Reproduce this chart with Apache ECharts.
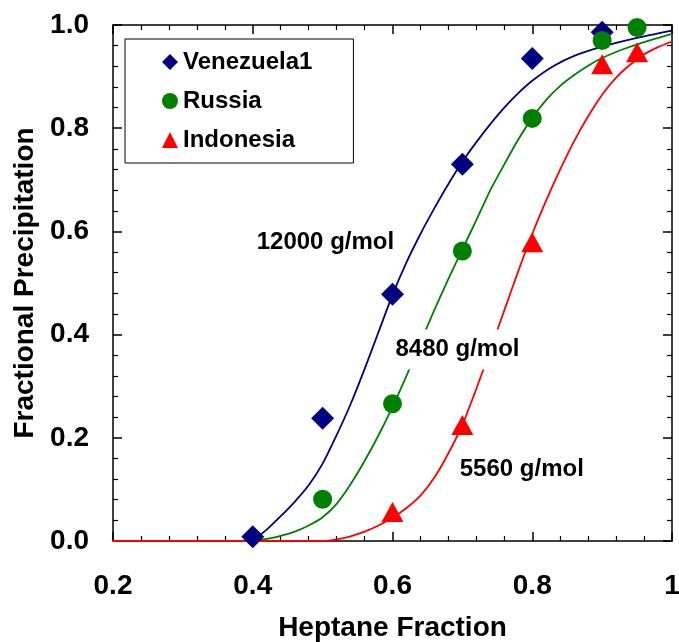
<!DOCTYPE html>
<html><head><meta charset="utf-8">
<script src="https://cdn.jsdelivr.net/npm/echarts@6/dist/echarts.min.js"></script>
<style>html,body{margin:0;padding:0;background:#fff}#c{width:679px;height:642px}</style>
</head><body><div id="c"></div>
<script>
// Measured data points
const venezuelaX = [0.4, 0.5, 0.6, 0.7, 0.8, 0.9];
const venezuelaY = [0.008, 0.238, 0.478, 0.730, 0.935, 0.986];
const russiaX = [0.5, 0.6, 0.7, 0.8, 0.9, 0.95];
const russiaY = [0.081, 0.266, 0.562, 0.819, 0.970, 0.995];
const indonesiaX = [0.6, 0.7, 0.8, 0.9, 0.95];
const indonesiaY = [0.056, 0.225, 0.579, 0.924, 0.947];

// Fitted model curves
const fitVX = [0.40, 0.42, 0.44, 0.46, 0.48, 0.50, 0.52, 0.54, 0.56, 0.58, 0.60, 0.62, 0.64, 0.66, 0.68, 0.70, 0.72, 0.74, 0.76, 0.78, 0.80, 0.83, 0.86, 0.90, 0.95, 1.0];
const fitVY = [0.0, 0.022, 0.048, 0.076, 0.108, 0.15, 0.205, 0.265, 0.333, 0.405, 0.477, 0.54, 0.595, 0.645, 0.692, 0.735, 0.773, 0.808, 0.84, 0.868, 0.892, 0.92, 0.94, 0.958, 0.975, 0.989];
const fitRX = [0.40, 0.42, 0.44, 0.46, 0.48, 0.50, 0.52, 0.54, 0.56, 0.58, 0.60, 0.62, 0.64, 0.66, 0.68, 0.70, 0.72, 0.74, 0.76, 0.78, 0.80, 0.82, 0.84, 0.86, 0.88, 0.90, 0.93, 0.96, 1.0];
const fitRY = [0.0, 0.004, 0.01, 0.018, 0.03, 0.046, 0.072, 0.11, 0.155, 0.205, 0.26, 0.32, 0.385, 0.448, 0.508, 0.565, 0.622, 0.68, 0.73, 0.778, 0.82, 0.855, 0.882, 0.903, 0.921, 0.936, 0.953, 0.967, 0.983];
const fitIX = [0.185, 0.50, 0.52, 0.54, 0.56, 0.58, 0.60, 0.62, 0.64, 0.66, 0.68, 0.70, 0.72, 0.74, 0.76, 0.78, 0.80, 0.82, 0.84, 0.86, 0.88, 0.90, 0.92, 0.94, 0.96, 0.98, 1.0];
const fitIY = [0.0, 0.0, 0.003, 0.009, 0.018, 0.03, 0.045, 0.064, 0.088, 0.123, 0.17, 0.225, 0.295, 0.37, 0.447, 0.523, 0.595, 0.66, 0.72, 0.775, 0.823, 0.865, 0.898, 0.923, 0.943, 0.957, 0.968];

// Annotations
const annoText = ['12000 g/mol', '8480 g/mol', '5560 g/mol'];
const annoX = [0.504, 0.693, 0.785];
const annoY = [0.579, 0.371, 0.138];

// Axis tick labels
const xTickVals = [0.2, 0.4, 0.6, 0.8, 1.0];
const xTickLabels = ['0.2', '0.4', '0.6', '0.8', '1'];
const yTickVals = [0.0, 0.2, 0.4, 0.6, 0.8, 1.0];
const yTickLabels = ['0.0', '0.2', '0.4', '0.6', '0.8', '1.0'];

const zip = (xs, ys) => xs.map((x, i) => [x, ys[i]]);
const lookup = (vals, labels) => v => {
  const i = vals.findIndex(t => Math.abs(t - v) < 1e-6);
  return i >= 0 ? labels[i] : '';
};

const FONT = '"Liberation Sans", Arial, sans-serif';
const NAVY = '#000080', GREEN = '#008000', RED = '#FF0000';

const axisCommon = {
  axisLine: { show: true, onZero: false, lineStyle: { color: '#000', width: 1.5 } },
  axisTick: { show: true, inside: true, length: 9, lineStyle: { color: '#000', width: 1.5 } },
  minorTick: { show: true, splitNumber: 5, length: 5, lineStyle: { color: '#000', width: 1.2 } },
  splitLine: { show: false },
  minorSplitLine: { show: false },
};

const chart = echarts.init(document.getElementById('c'), null, { renderer: 'canvas' });
chart.setOption({
  animation: false,
  backgroundColor: '#fff',
  grid: { left: 113, right: 7, top: 25, bottom: 101, containLabel: false, outerBoundsMode: 'none' },
  xAxis: [
    Object.assign({
      type: 'value', position: 'bottom', min: 0.2, max: 1.0, interval: 0.2,
      name: 'Heptane Fraction', nameLocation: 'middle', nameGap: 73,
      nameTextStyle: { fontFamily: FONT, fontWeight: 'bold', fontSize: 28, color: '#000' },
      axisLabel: { margin: 31, fontFamily: FONT, fontWeight: 'bold', fontSize: 28, color: '#000',
        formatter: lookup(xTickVals, xTickLabels) },
    }, axisCommon),
    Object.assign({
      type: 'value', position: 'top', min: 0.2, max: 1.0, interval: 0.2,
      axisLabel: { show: false },
    }, axisCommon),
  ],
  yAxis: [
    Object.assign({
      type: 'value', position: 'left', min: 0, max: 1.0, interval: 0.2,
      name: 'Fractional Precipitation', nameLocation: 'middle', nameGap: 67, nameRotate: 90,
      nameTextStyle: { fontFamily: FONT, fontWeight: 'bold', fontSize: 28, color: '#000' },
      axisLabel: { margin: 24, fontFamily: FONT, fontWeight: 'bold', fontSize: 28, color: '#000',
        formatter: lookup(yTickVals, yTickLabels) },
    }, axisCommon),
    Object.assign({
      type: 'value', position: 'right', min: 0, max: 1.0, interval: 0.2,
      axisLabel: { show: false },
    }, axisCommon),
  ],
  legend: {
    orient: 'vertical', left: 125, top: 39,
    data: ['Venezuela1', 'Russia', 'Indonesia'],
    itemWidth: 16, itemHeight: 16, itemGap: 15,
    padding: [11, 41, 11, 37],
    borderColor: '#000', borderWidth: 1, backgroundColor: '#fff',
    textStyle: { fontFamily: FONT, fontWeight: 'bold', fontSize: 24, color: '#000' },
  },
  series: [
    { name: 'fitV', type: 'line', data: zip(fitVX, fitVY), showSymbol: false, smooth: 0.2, clip: false,
      lineStyle: { color: NAVY, width: 1.8 }, itemStyle: { color: NAVY }, z: 2 },
    { name: 'fitR', type: 'line', data: zip(fitRX, fitRY), showSymbol: false, smooth: 0.2, clip: false,
      lineStyle: { color: GREEN, width: 1.8 }, itemStyle: { color: GREEN }, z: 2 },
    { name: 'fitI', type: 'line', data: zip(fitIX, fitIY), showSymbol: false, smooth: 0.2, clip: false,
      lineStyle: { color: RED, width: 1.8 }, itemStyle: { color: RED }, z: 2 },
    { name: 'annotations', type: 'scatter', symbolSize: 0, clip: false, z: 5, silent: true,
      itemStyle: { opacity: 1 },
      data: annoText.map((t, i) => ({ name: t, value: [annoX[i], annoY[i]] })),
      label: { show: true, position: 'inside', formatter: p => p.name,
        fontFamily: FONT, fontWeight: 'bold', fontSize: 24, color: '#000',
        backgroundColor: '#fff', padding: [8, 3] } },
    { name: 'Venezuela1', type: 'scatter', symbol: 'diamond', symbolSize: 23, clip: false, z: 6,
      data: zip(venezuelaX, venezuelaY), itemStyle: { color: NAVY, opacity: 1 } },
    { name: 'Russia', type: 'scatter', symbol: 'circle', symbolSize: 19, clip: false, z: 6,
      data: zip(russiaX, russiaY), itemStyle: { color: GREEN, opacity: 1 } },
    { name: 'Indonesia', type: 'scatter', symbol: 'triangle', symbolSize: [22, 20], clip: false, z: 6,
      data: zip(indonesiaX, indonesiaY), itemStyle: { color: RED, opacity: 1 } },
  ],
});
</script></body></html>
